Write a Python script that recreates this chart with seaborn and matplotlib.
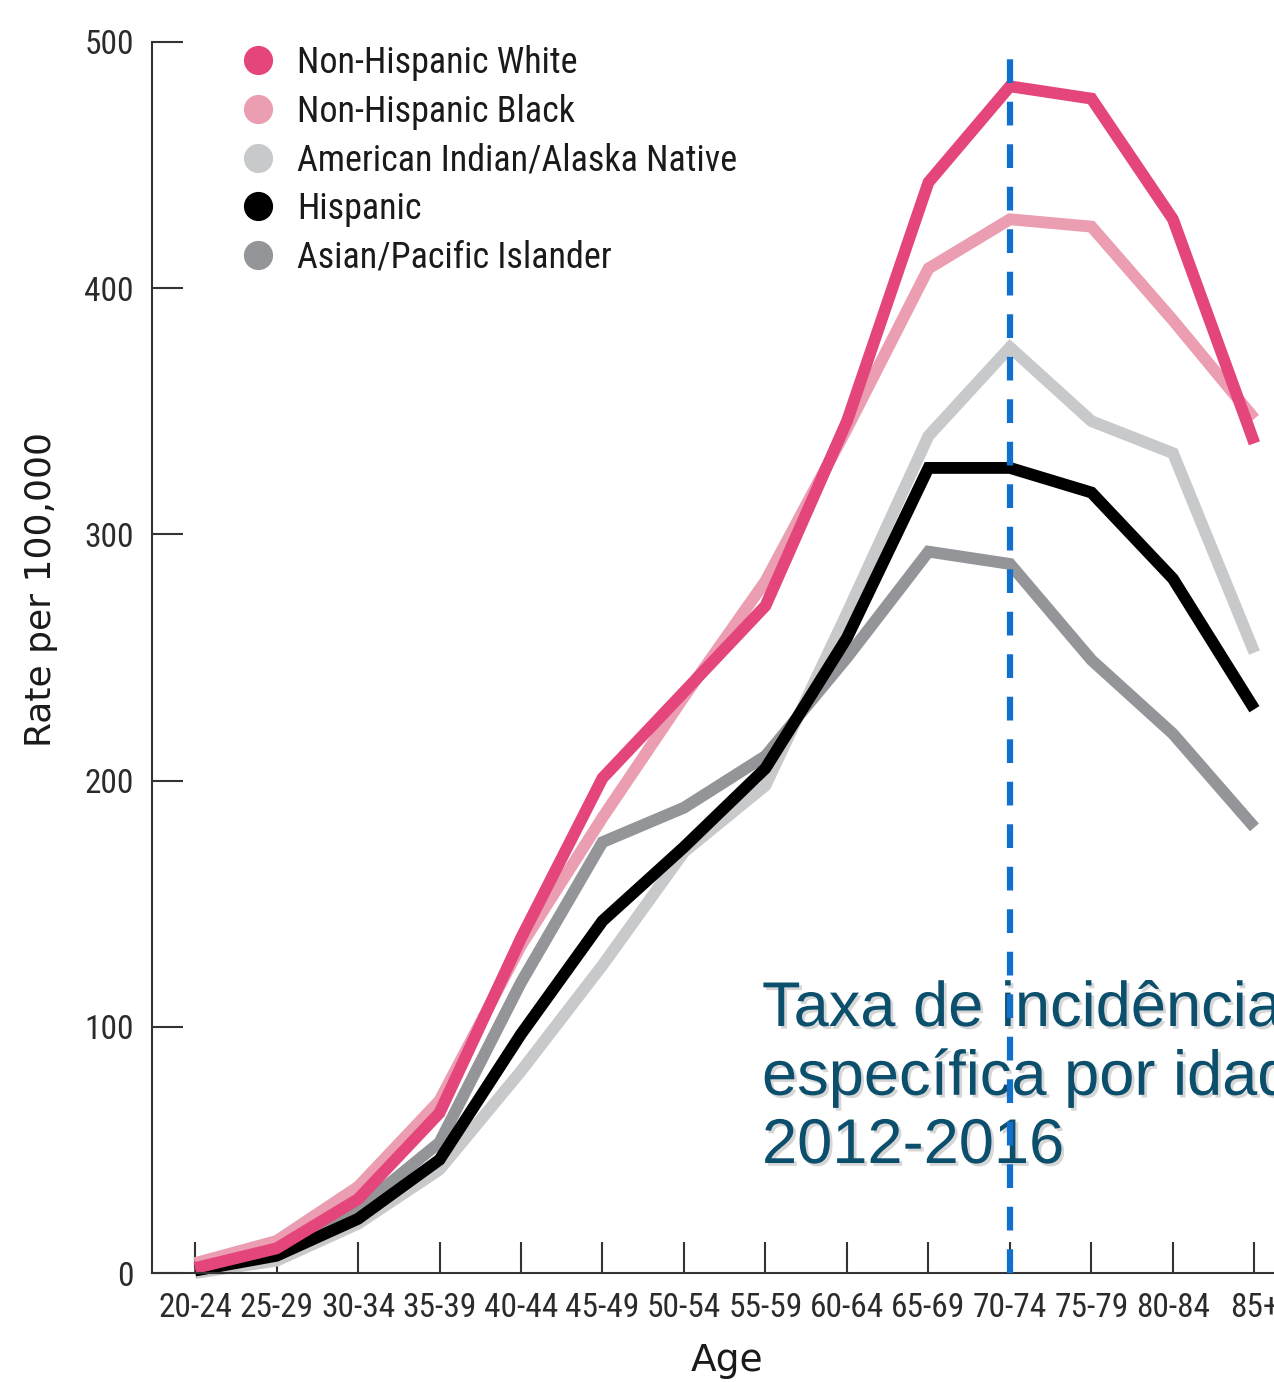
import matplotlib
matplotlib.use("Agg")
import matplotlib.pyplot as plt
from matplotlib import font_manager
from matplotlib import patheffects
from matplotlib.lines import Line2D
import pandas as pd
import seaborn as sns

AGE_GROUPS = ["20-24", "25-29", "30-34", "35-39", "40-44", "45-49", "50-54",
              "55-59", "60-64", "65-69", "70-74", "75-79", "80-84", "85+"]

NH_WHITE = [2, 10, 30, 65, 136, 201, 236, 271, 346, 443, 482, 477, 428, 337]
NH_BLACK = [4, 13, 35, 70, 133, 185, 234, 281, 343, 408, 428, 425, 387, 347]
AIAN = [0, 5, 20, 42, 82, 125, 171, 198, 268, 340, 376, 346, 333, 252]
HISPANIC = [1, 7, 22, 46, 97, 143, 173, 205, 258, 327, 327, 317, 282, 229]
ASIAN_PI = [1, 8, 26, 53, 118, 175, 189, 210, 250, 293, 288, 249, 219, 181]

SERIES = {
    "Non-Hispanic White": NH_WHITE,
    "Non-Hispanic Black": NH_BLACK,
    "American Indian/Alaska Native": AIAN,
    "Hispanic": HISPANIC,
    "Asian/Pacific Islander": ASIAN_PI,
}
COLORS = {
    "Non-Hispanic White": "#e4457a",
    "Non-Hispanic Black": "#eb9db1",
    "American Indian/Alaska Native": "#c8c9cb",
    "Hispanic": "#000000",
    "Asian/Pacific Islander": "#939598",
}
LEGEND_ORDER = list(SERIES)
DRAW_ORDER = ["American Indian/Alaska Native", "Asian/Pacific Islander", "Hispanic",
              "Non-Hispanic Black", "Non-Hispanic White"]

HIGHLIGHT_AGE = "70-74"
HIGHLIGHT_TOP = 494
NOTE = "Taxa de incidência\nespecífica por idade\n2012-2016"

installed = {f.name for f in font_manager.fontManager.ttflist}
narrow = next((name for name in ["Liberation Sans Narrow", "Roboto Condensed", "Open Sans Condensed"]
               if name in installed), None)
tick_font = narrow or "DejaVu Sans"
tick_size = 24 if narrow else 18

df = pd.DataFrame(
    [(i, age, group, SERIES[group][i]) for group in SERIES for i, age in enumerate(AGE_GROUPS)],
    columns=["x", "Age", "Group", "Rate"],
)

sns.set_theme(style="white")
fig = plt.figure(figsize=(12.74, 13.82), dpi=100)
ax = fig.add_axes([152 / 1274, 1 - 1273 / 1382, 1 - 152 / 1274, (1273 - 42) / 1382])

sns.lineplot(
    data=df,
    x="x",
    y="Rate",
    hue="Group",
    hue_order=DRAW_ORDER,
    palette=COLORS,
    linewidth=8.5,
    solid_capstyle="butt",
    solid_joinstyle="miter",
    clip_on=False,
    legend=False,
    ax=ax,
)

hx = AGE_GROUPS.index(HIGHLIGHT_AGE)
ax.vlines(hx, 0, HIGHLIGHT_TOP, colors="#1170cc", linewidth=4.5,
          linestyles=(0, (3.8, 3.0)), zorder=10)

ax.set_xlim(-0.528, 13.24)
ax.set_ylim(0, 500)
ax.set_xticks(range(len(AGE_GROUPS)))
ax.set_xticklabels(AGE_GROUPS)
ax.set_yticks(range(0, 501, 100))
for lab in ax.get_xticklabels() + ax.get_yticklabels():
    lab.set_family(tick_font)
    lab.set_fontsize(tick_size)
    lab.set_color("#2b2b2b")
ax.tick_params(axis="both", bottom=True, left=True, direction="in",
               length=22, width=1.5, color="#333333")
ax.tick_params(axis="x", pad=14)
ax.tick_params(axis="y", pad=13)
sns.despine(ax=ax)
for side in ["left", "bottom"]:
    ax.spines[side].set_color("#333333")
    ax.spines[side].set_linewidth(1.5)

ax.set_xlabel("Age", fontsize=27, family="DejaVu Sans", color="#1a1a1a")
ax.set_ylabel("Rate per 100,000", fontsize=26, family="DejaVu Sans", color="#1a1a1a")
ax.xaxis.set_label_coords(0.5125, -0.057)
ax.yaxis.set_label_coords(-0.084, 0.555)

handles = [
    Line2D([0], [0], marker="o", linestyle="None", markersize=20,
           markerfacecolor=COLORS[g], markeredgecolor=COLORS[g], label=g)
    for g in LEGEND_ORDER
]
leg = ax.legend(
    handles=handles,
    loc="upper left",
    bbox_to_anchor=(236 / 1274, 1 - 45 / 1382),
    bbox_transform=fig.transFigure,
    frameon=False,
    borderpad=0,
    borderaxespad=0,
    handlelength=1.2,
    handletextpad=0.5,
    labelspacing=0.35,
    prop={"family": tick_font, "size": tick_size + 2},
)
for t in leg.get_texts():
    t.set_color("#1a1a1a")

ax.text(
    762 / 1274, 1 - 980 / 1382, NOTE,
    transform=fig.transFigure,
    ha="left", va="top",
    fontsize=45.5, family="Liberation Sans", color="#0b4f6c",
    linespacing=1.2, zorder=5,
    path_effects=[patheffects.withSimplePatchShadow(offset=(2, -2), shadow_rgbFace="#999999", alpha=0.4)],
)

fig.savefig("out.png", dpi=100)
plt.close(fig)
